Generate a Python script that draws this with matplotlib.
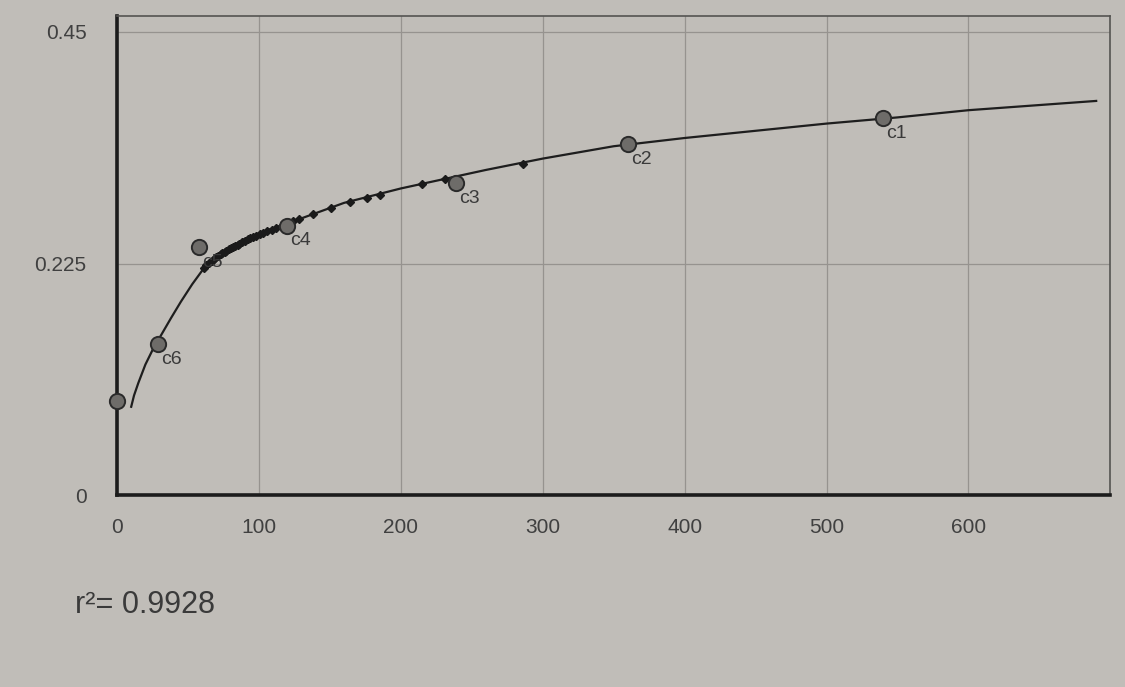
import matplotlib.pyplot as plt
import numpy as np

plt.rcParams['font.family'] = ['Liberation Sans', 'DejaVu Sans']

# fitted curve
curve_x = [10, 12, 15, 20, 25, 30, 38, 45, 53, 62, 70, 80, 90, 105, 120, 140, 160, 180,
           200, 230, 260, 300, 350, 400, 450, 500, 550, 600, 650, 690]
curve_y = [0.086, 0.097, 0.109, 0.127, 0.141, 0.153, 0.172, 0.188, 0.205, 0.222, 0.232,
           0.241, 0.249, 0.257, 0.264, 0.274, 0.284, 0.291, 0.298, 0.307, 0.316, 0.327,
           0.339, 0.347, 0.354, 0.361, 0.367, 0.374, 0.379, 0.383]

# labelled samples
pt_x = [540, 360, 239, 120, 58, 29, 0]
pt_y = [0.366, 0.341, 0.303, 0.262, 0.241, 0.147, 0.092]
pt_lab = ['c1', 'c2', 'c3', 'c4', 'c5', 'c6', '']

# small unlabelled samples along the curve
sm_x = [61, 63, 65, 67, 68, 70, 71, 73, 74, 76, 77, 79, 80, 82, 83, 85, 86, 88, 90, 92,
        94, 96, 98, 101, 103, 106, 109, 112, 116, 120, 124, 128, 138, 151, 164, 176,
        185, 215, 231, 286]
sm_y = [0.221, 0.224, 0.226, 0.228, 0.229, 0.231, 0.232, 0.234, 0.235, 0.236, 0.237,
        0.239, 0.240, 0.241, 0.242, 0.243, 0.244, 0.246, 0.247, 0.249, 0.250, 0.251,
        0.252, 0.254, 0.255, 0.257, 0.258, 0.260, 0.262, 0.264, 0.266, 0.268, 0.273,
        0.279, 0.285, 0.289, 0.292, 0.302, 0.307, 0.322]

r2 = 0.9928
paper = '#c0bdb8'

fig = plt.figure(figsize=(11.25, 6.87), dpi=100, facecolor=paper)
ax = fig.add_axes([0.104, 0.279, 0.883, 0.697])
ax.set_facecolor(paper)

ax.plot(curve_x, curve_y, color='#1e1e1e', linewidth=1.6, zorder=3)
ax.plot(sm_x, sm_y, linestyle='none', marker='D', markersize=4.5,
        color='#1a1a1a', zorder=4)
ax.plot(pt_x, pt_y, linestyle='none', marker='o', markersize=11,
        markerfacecolor='#6e6c69', markeredgecolor='#2a2a2a', markeredgewidth=1.4,
        zorder=5, clip_on=False)
for x, y, lab in zip(pt_x, pt_y, pt_lab):
    if lab:
        ax.annotate(lab, (x, y), xytext=(2, -5), textcoords='offset points',
                    ha='left', va='top', fontsize=14, color='#3a3a3a', zorder=6)

ax.set_xlim(0, 700)
ax.set_ylim(0, 0.465)
ax.set_xticks([0, 100, 200, 300, 400, 500, 600])
ax.set_yticks([0, 0.225, 0.45])
ax.set_yticklabels(['0', '0.225', '0.45'])
ax.tick_params(length=0, labelsize=15, labelcolor='#404040')
ax.tick_params(axis='x', pad=16)
ax.tick_params(axis='y', pad=22)
ax.grid(color='#96938f', linewidth=0.9)
ax.set_axisbelow(True)

for side in ['left', 'bottom']:
    ax.spines[side].set_linewidth(2.6)
    ax.spines[side].set_color('#1c1c1c')
for side in ['top', 'right']:
    ax.spines[side].set_linewidth(1.2)
    ax.spines[side].set_color('#555451')

fig.text(0.067, 0.107, 'r\u00b2= {}'.format(r2), fontsize=22, color='#3a3a3a')

plt.savefig('out.png', dpi=100, facecolor=paper)
